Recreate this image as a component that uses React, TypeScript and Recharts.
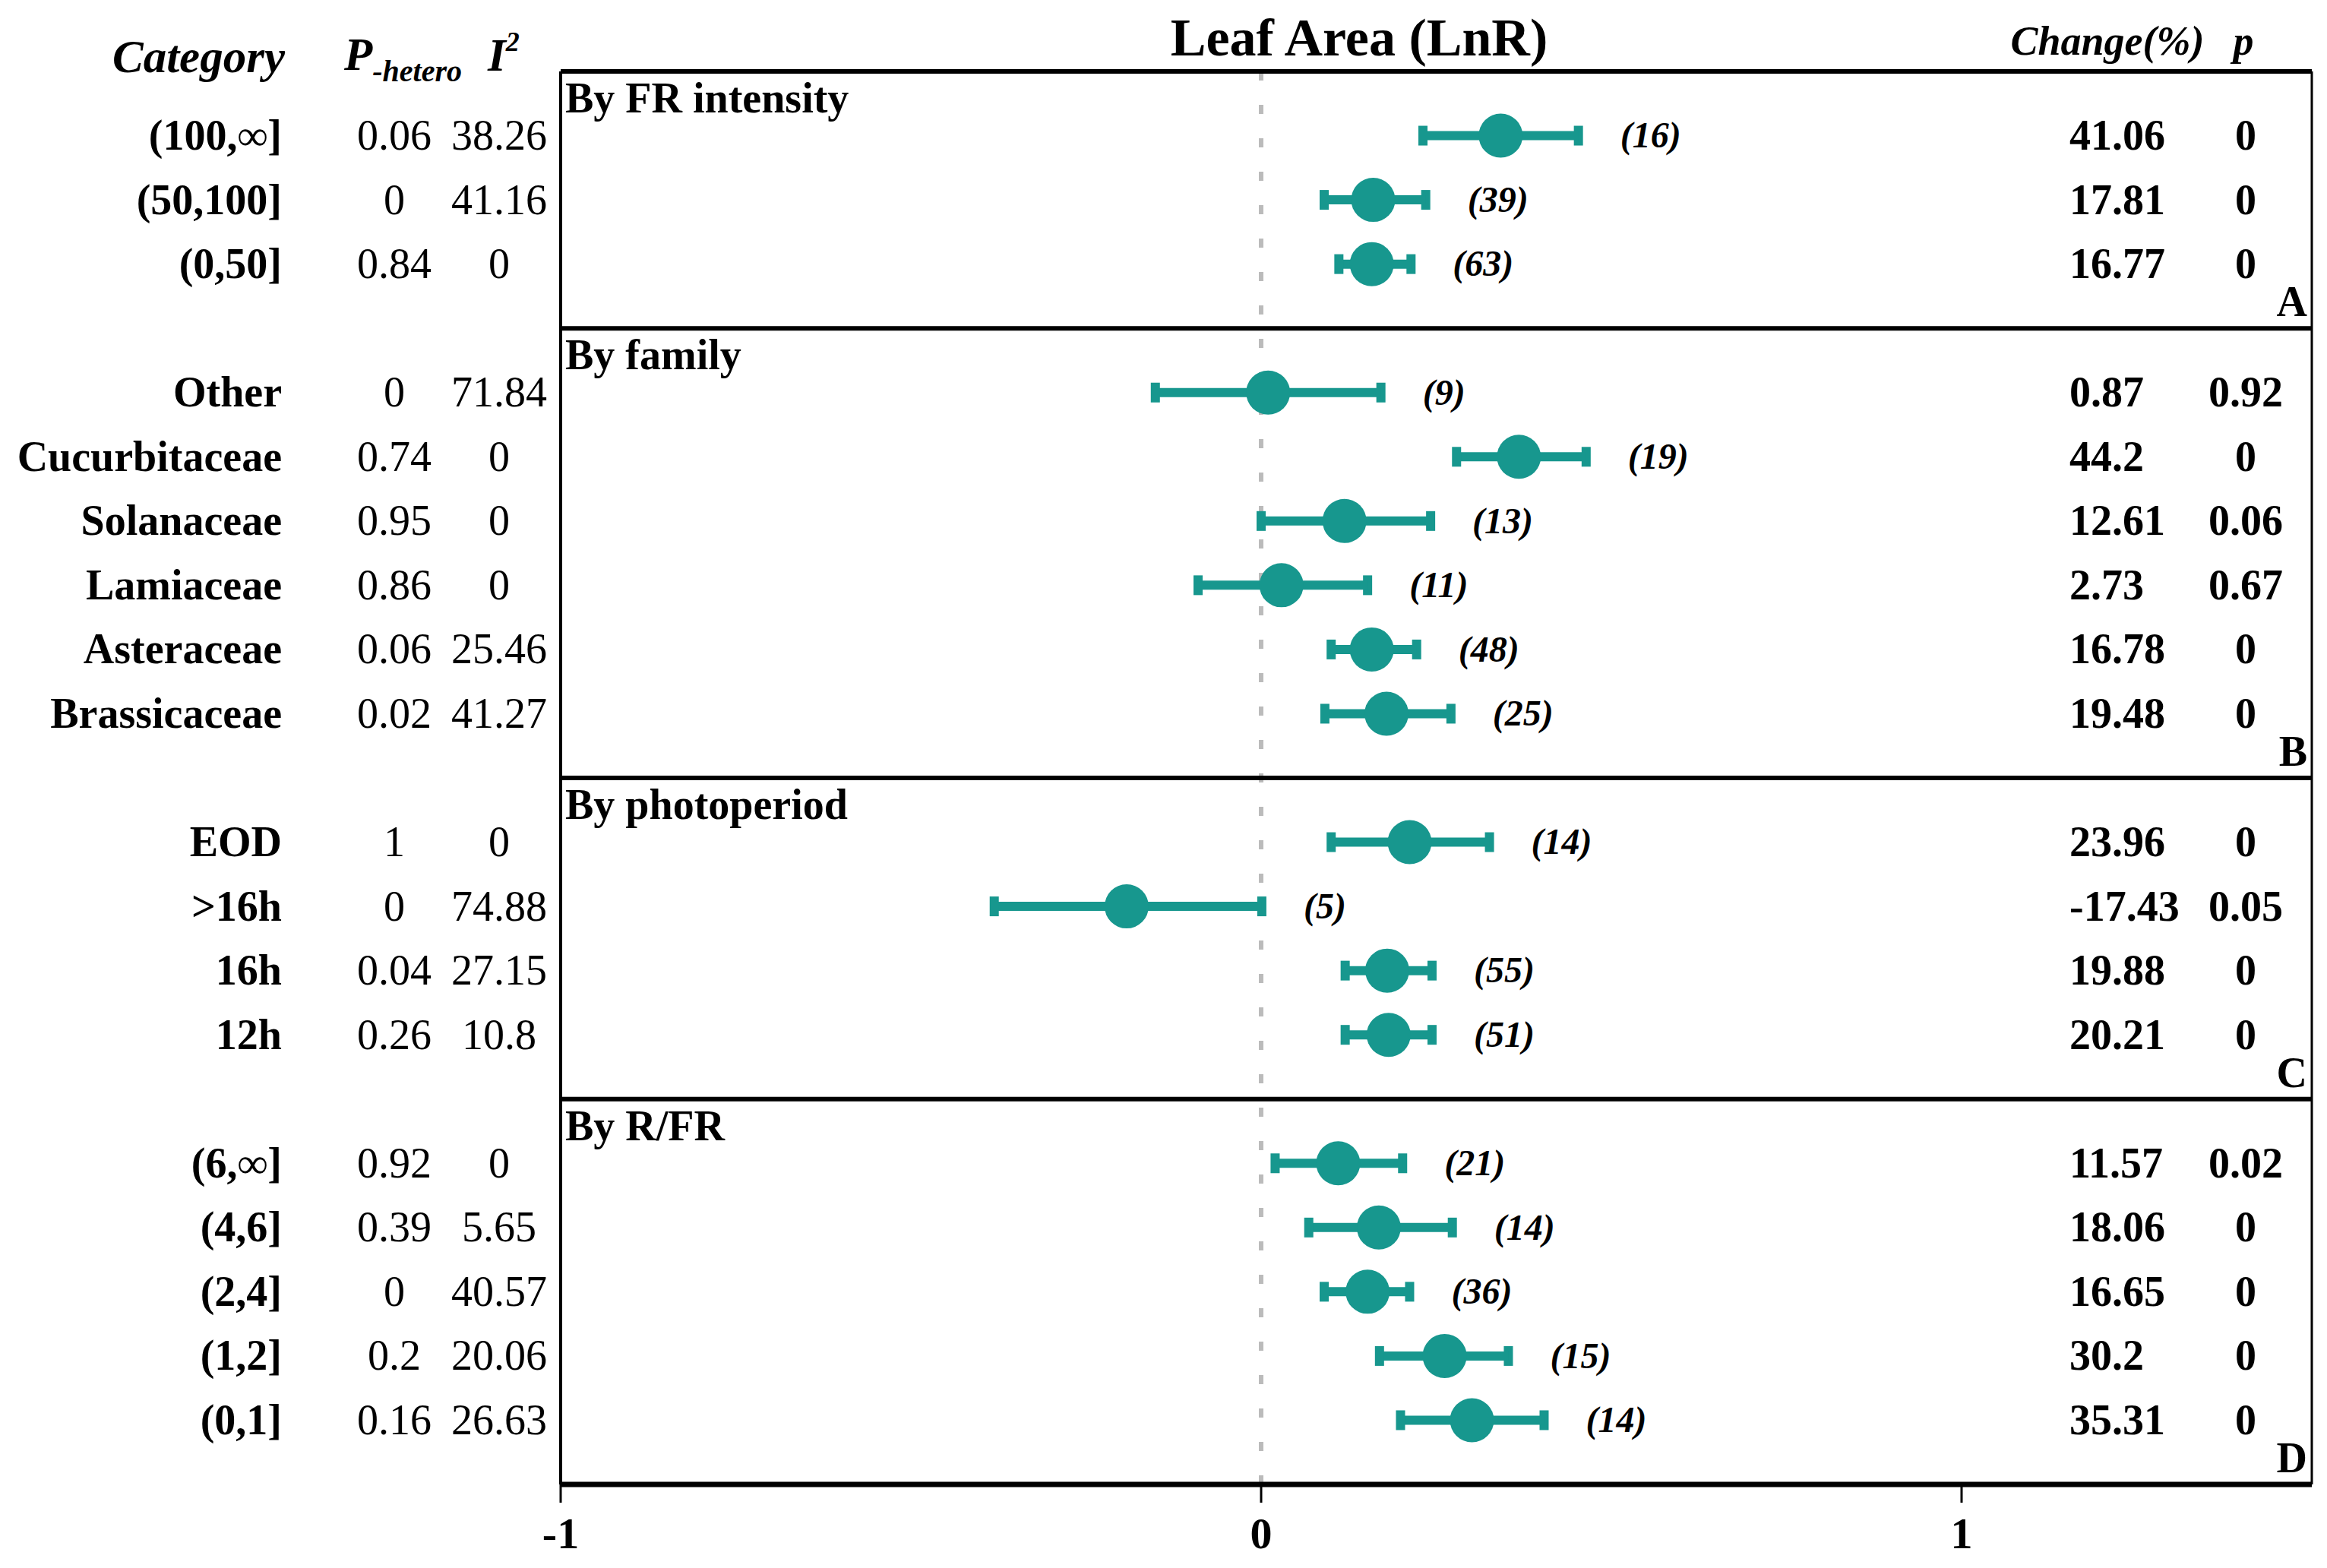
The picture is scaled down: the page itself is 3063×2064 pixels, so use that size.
import React from 'react';
import { ComposedChart, Scatter, XAxis, YAxis, ErrorBar, ReferenceLine } from 'recharts';

const TEAL = '#17978e';
const FONT = '"Liberation Serif", "Times New Roman", serif';

// table / data (top to bottom)
const panelTitles = ['By FR intensity', 'By family', 'By photoperiod', 'By R/FR'];
const panelLetters = ['A', 'B', 'C', 'D'];
const panelSizes = [3, 6, 4, 5];

const categories = [
  '(100,∞]', '(50,100]', '(0,50]',
  'Other', 'Cucurbitaceae', 'Solanaceae', 'Lamiaceae', 'Asteraceae', 'Brassicaceae',
  'EOD', '>16h', '16h', '12h',
  '(6,∞]', '(4,6]', '(2,4]', '(1,2]', '(0,1]',
];
const pHetero = ['0.06', '0', '0.84', '0', '0.74', '0.95', '0.86', '0.06', '0.02', '1', '0', '0.04', '0.26', '0.92', '0.39', '0', '0.2', '0.16'];
const iSquared = ['38.26', '41.16', '0', '71.84', '0', '0', '0', '25.46', '41.27', '0', '74.88', '27.15', '10.8', '0', '5.65', '40.57', '20.06', '26.63'];
const lnR = [0.342, 0.16, 0.158, 0.01, 0.368, 0.119, 0.029, 0.158, 0.179, 0.212, -0.192, 0.18, 0.182, 0.11, 0.168, 0.152, 0.262, 0.301];
const ciLow = [0.231, 0.09, 0.111, -0.151, 0.279, 0.0, -0.09, 0.1, 0.091, 0.1, -0.381, 0.12, 0.12, 0.02, 0.068, 0.09, 0.169, 0.199];
const ciHigh = [0.453, 0.235, 0.214, 0.171, 0.464, 0.242, 0.152, 0.222, 0.271, 0.326, 0.001, 0.244, 0.244, 0.202, 0.273, 0.212, 0.353, 0.404];
const nStudies = [16, 39, 63, 9, 19, 13, 11, 48, 25, 14, 5, 55, 51, 21, 14, 36, 15, 14];
const changePct = ['41.06', '17.81', '16.77', '0.87', '44.2', '12.61', '2.73', '16.78', '19.48', '23.96', '-17.43', '19.88', '20.21', '11.57', '18.06', '16.65', '30.2', '35.31'];
const pValue = ['0', '0', '0', '0.92', '0', '0.06', '0.67', '0', '0', '0', '0.05', '0', '0', '0.02', '0', '0', '0', '0'];

const xTicks = [-1, 0, 1];

// row slots: every panel has a boundary slot, then its rows
const boundaries: number[] = [0];
const rows: any[] = [];
let slot = 0;
let k = 0;
panelSizes.forEach((size) => {
  for (let i = 0; i < size; i++) {
    rows.push({
      x: lnR[k],
      y: slot + 1 + i,
      err: [lnR[k] - ciLow[k], ciHigh[k] - lnR[k]],
      category: categories[k],
      ph: pHetero[k],
      i2: iSquared[k],
      change: changePct[k],
      p: pValue[k],
    });
    k++;
  }
  slot += size + 1;
  boundaries.push(slot);
});
const nData = rows.map((r, i) => ({ x: ciHigh[i], y: r.y, n: nStudies[i] }));
const yMax = boundaries[boundaries.length - 1];

// column positions (px) of the side table
const COL = { category: 363, ph: 511, i2: 649, change: 2716, p: 2948 };

const RowShape = (props: any) => {
  const { cx, cy, payload } = props;
  const base = { y: cy, dy: '0.33em', fontFamily: FONT, fontSize: 56, fill: '#000' };
  return (
    <g>
      <circle cx={cx} cy={cy} r={29} fill={TEAL} />
      <text {...base} x={COL.category} textAnchor="end" fontWeight="bold">{payload.category}</text>
      <text {...base} x={COL.ph} textAnchor="middle">{payload.ph}</text>
      <text {...base} x={COL.i2} textAnchor="middle">{payload.i2}</text>
      <text {...base} x={COL.change} textAnchor="start" fontWeight="bold">{payload.change}</text>
      <text {...base} x={COL.p} textAnchor="middle" fontWeight="bold">{payload.p}</text>
    </g>
  );
};

const NShape = (props: any) => {
  const { cx, cy, payload } = props;
  return (
    <text x={cx + 55} y={cy} dy="0.33em" fontFamily={FONT} fontSize={48} fontWeight="bold" fontStyle="italic" fill="#000">
      ({payload.n})
    </text>
  );
};

const titleLabel = (text: string) => (props: any) => {
  const vb = props.viewBox || {};
  return (
    <text x={vb.x + 6} y={vb.y + 54} fontFamily={FONT} fontSize={56} fontWeight="bold" fill="#000">
      {text}
    </text>
  );
};

const letterLabel = (text: string) => (props: any) => {
  const vb = props.viewBox || {};
  return (
    <text x={vb.x + vb.width - 6} y={vb.y - 16} textAnchor="end" fontFamily={FONT} fontSize={56} fontWeight="bold" fill="#000">
      {text}
    </text>
  );
};

export default function App() {
  return (
    <div style={{ width: 3055, height: 2056, background: '#fff' }}>
      <ComposedChart
        width={3055}
        height={2056}
        margin={{ top: 86, right: 20, bottom: 30, left: 730 }}
        style={{ fontFamily: FONT }}
      >
        <XAxis
          type="number"
          dataKey="x"
          domain={[-1, 1.5]}
          ticks={xTicks}
          height={80}
          axisLine={{ stroke: '#000', strokeWidth: 7 }}
          tickLine={{ stroke: '#000', strokeWidth: 3 }}
          tickSize={24}
          tickMargin={19}
          tick={{ fontFamily: FONT, fontSize: 58, fontWeight: 'bold', fill: '#000' }}
        />
        <YAxis type="number" dataKey="y" domain={[0, yMax]} reversed hide />

        <ReferenceLine x={0} stroke="#bbbbbb" strokeWidth={6} strokeDasharray="12 32" />
        <ReferenceLine x={-1} stroke="#000" strokeWidth={4} />
        <ReferenceLine x={1.5} stroke="#000" strokeWidth={3} />
        {boundaries.slice(0, -1).map((b, i) => (
          <ReferenceLine key={`t${b}`} y={b} stroke="#000" strokeWidth={6} label={titleLabel(panelTitles[i])} />
        ))}
        {boundaries.slice(1).map((b, i) => (
          <ReferenceLine key={`l${b}`} y={b} stroke="none" strokeWidth={0} label={letterLabel(panelLetters[i])} />
        ))}

        <Scatter data={rows} shape={RowShape} isAnimationActive={false}>
          <ErrorBar dataKey="err" direction="x" width={13} strokeWidth={12} stroke={TEAL} />
        </Scatter>
        <Scatter data={nData} shape={NShape} isAnimationActive={false} />

        <text x={367} y={87} textAnchor="end" fontFamily={FONT} fontSize={61} fontWeight="bold" fontStyle="italic">
          Category
        </text>
        <text x={445} y={84} fontFamily={FONT} fontSize={61} fontWeight="bold" fontStyle="italic">
          P<tspan fontSize={40} dy={15}>-hetero</tspan>
        </text>
        <text x={634} y={85} fontFamily={FONT} fontSize={61} fontWeight="bold" fontStyle="italic">
          I<tspan fontSize={36} dy={-26}>2</tspan>
        </text>
        <text x={1781} y={65} textAnchor="middle" fontFamily={FONT} fontSize={70} fontWeight="bold">
          Leaf Area (LnR)
        </text>
        <text x={2766} y={64} textAnchor="middle" fontFamily={FONT} fontSize={54} fontWeight="bold" fontStyle="italic">
          Change(%)
        </text>
        <text x={2945} y={64} textAnchor="middle" fontFamily={FONT} fontSize={54} fontWeight="bold" fontStyle="italic">
          p
        </text>
      </ComposedChart>
    </div>
  );
}
